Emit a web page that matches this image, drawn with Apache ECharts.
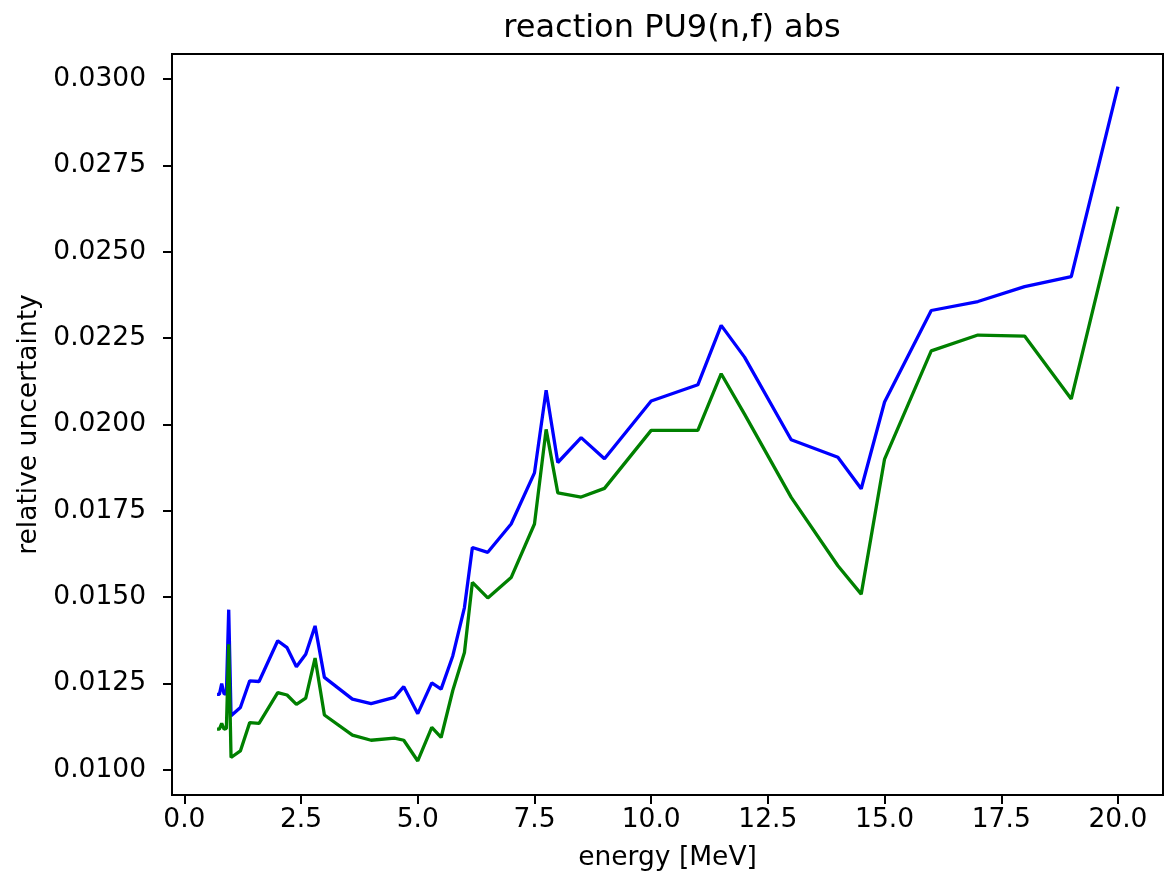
<!DOCTYPE html>
<html>
<head>
<meta charset="utf-8">
<script src="https://cdn.jsdelivr.net/npm/echarts@6/dist/echarts.min.js"></script>
<style>
html,body{margin:0;padding:0;background:#fff;}
#chart{width:1172px;height:886px;}
</style>
</head>
<body>
<div id="chart"></div>
<script>
const energy = [0.7, 0.75, 0.8, 0.85, 0.9, 0.95, 1.0, 1.2, 1.4, 1.6, 2.0, 2.2, 2.4, 2.6, 2.8, 3.0, 3.6, 4.0, 4.5, 4.7, 5.0, 5.3, 5.5, 5.75, 6.0, 6.17, 6.5, 7.0, 7.5, 7.75, 8.0, 8.5, 9.0, 10.0, 11.0, 11.5, 12.0, 13.0, 14.0, 14.5, 15.0, 16.0, 17.0, 18.0, 19.0, 20.0];
const blueVals = [0.01219, 0.01219, 0.01250, 0.01220, 0.01220, 0.01464, 0.01157, 0.01181, 0.01258, 0.01256, 0.01374, 0.01354, 0.01299, 0.01335, 0.01417, 0.01268, 0.01205, 0.01192, 0.01210, 0.01241, 0.01163, 0.01252, 0.01234, 0.01330, 0.01470, 0.01644, 0.01630, 0.01712, 0.01860, 0.02099, 0.01890, 0.01962, 0.01901, 0.02068, 0.02115, 0.02287, 0.02195, 0.01956, 0.01905, 0.01814, 0.02065, 0.02330, 0.02356, 0.02399, 0.02428, 0.02978];
const greenVals = [0.01118, 0.01118, 0.01135, 0.01118, 0.01120, 0.01364, 0.01036, 0.01055, 0.01137, 0.01135, 0.01224, 0.01217, 0.01190, 0.01208, 0.01324, 0.01159, 0.01101, 0.01086, 0.01092, 0.01086, 0.01026, 0.01123, 0.01094, 0.01230, 0.01340, 0.01543, 0.01498, 0.01557, 0.01712, 0.01986, 0.01802, 0.01790, 0.01815, 0.01983, 0.01983, 0.02147, 0.02030, 0.01789, 0.01591, 0.01509, 0.01900, 0.02213, 0.02259, 0.02256, 0.02074, 0.02631];
const xTicks = [0, 2.5, 5, 7.5, 10, 12.5, 15, 17.5, 20];
const yTicks = [0.0100, 0.0125, 0.0150, 0.0175, 0.0200, 0.0225, 0.0250, 0.0275, 0.0300];

const FONT = "DejaVu Sans";
const chart = echarts.init(document.getElementById('chart'), null, {renderer: 'canvas'});
const pair = (xs, ys) => xs.map((x, i) => [x, ys[i]]);

chart.setOption({
  animation: false,
  backgroundColor: '#ffffff',
  title: {
    text: 'reaction PU9(n,f) abs',
    left: 667, top: 8, textAlign: 'center',
    textStyle: {fontFamily: FONT, fontSize: 32, fontWeight: 'normal', color: '#000'}
  },
  grid: {left: 172, right: 9, top: 54, bottom: 91, show: true, borderColor: '#000', borderWidth: 2, backgroundColor: 'transparent'},
  xAxis: {
    type: 'value', min: -0.265, max: 20.965,
    name: 'energy [MeV]', nameLocation: 'middle', nameGap: 50,
    nameTextStyle: {fontFamily: FONT, fontSize: 26.5, color: '#000'},
    axisLine: {show: true, onZero: false, lineStyle: {color: '#000', width: 2}},
    axisTick: {show: true, length: 9, customValues: xTicks, lineStyle: {color: '#000', width: 2}},
    axisLabel: {show: true, customValues: xTicks, margin: 12, fontFamily: FONT, fontSize: 26.5, color: '#000',
      formatter: v => Number(v).toFixed(1)},
    splitLine: {show: false}
  },
  yAxis: {
    type: 'value', min: 0.009275, max: 0.030725,
    name: 'relative uncertainty', nameLocation: 'middle', nameGap: 128,
    nameTextStyle: {fontFamily: FONT, fontSize: 26.5, color: '#000'},
    axisLine: {show: true, onZero: false, lineStyle: {color: '#000', width: 2}},
    axisTick: {show: true, length: 9, customValues: yTicks, lineStyle: {color: '#000', width: 2}},
    axisLabel: {show: true, customValues: yTicks, margin: 26, fontFamily: FONT, fontSize: 26.5, color: '#000',
      formatter: v => Number(v).toFixed(4)},
    splitLine: {show: false}
  },
  series: [
    {type: 'line', data: pair(energy, blueVals), showSymbol: false, symbol: 'none',
     lineStyle: {color: '#0000ff', width: 3.3}, z: 2},
    {type: 'line', data: pair(energy, greenVals), showSymbol: false, symbol: 'none',
     lineStyle: {color: '#008000', width: 3.3}, z: 3}
  ]
});
</script>
</body>
</html>
